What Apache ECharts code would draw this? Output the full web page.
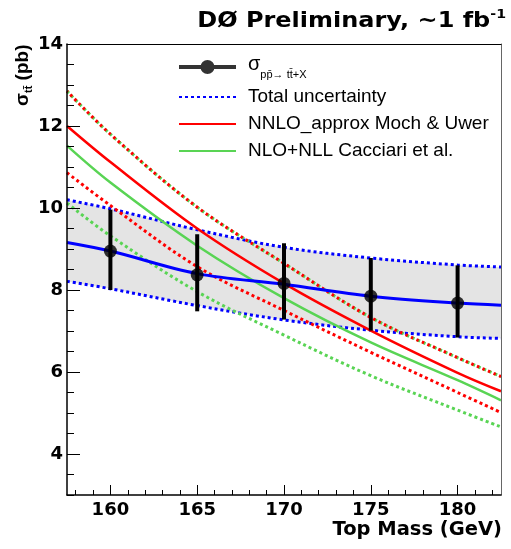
<!DOCTYPE html>
<html>
<head>
<meta charset="utf-8">
<script src="https://cdn.jsdelivr.net/npm/echarts@6/dist/echarts.min.js"></script>
<style>html,body{margin:0;padding:0;background:#fff;}#c{width:511px;height:549px;}</style>
</head>
<body>
<div id="c"></div>
<script>
// ---- data ----
const massGrid = [157.5, 160, 165, 170, 175, 180, 182.5];
const nnloCentral = [12.0, 11.12, 9.5, 8.16, 7.01, 5.98, 5.53];
const nnloUpper = [12.85, 11.8, 10.02, 8.65, 7.33, 6.35, 5.89];
const nnloLower = [10.86, 10.06, 8.57, 7.5, 6.48, 5.5, 5.01];
const nllCentral = [11.52, 10.62, 9.08, 7.8, 6.72, 5.8, 5.31];
const nllUpper = [12.85, 11.8, 10.02, 8.65, 7.33, 6.35, 5.89];
const nllLower = [10.12, 9.32, 7.96, 6.9, 5.91, 5.07, 4.66];
const fitCentral = [9.16, 8.95, 8.40, 8.14, 7.85, 7.68, 7.63];
const fitUpper = [10.2, 9.98, 9.47, 9.04, 8.78, 8.61, 8.56];
const fitLower = [8.21, 8.03, 7.62, 7.27, 7.02, 6.86, 6.82];
const measMass = [160, 165, 170, 175, 180];
const measXsec = [8.95, 8.37, 8.16, 7.85, 7.68];
const measLow = [8.0, 7.48, 7.28, 7.01, 6.84];
const measHigh = [9.96, 9.36, 9.14, 8.78, 8.6];
const xRange = [157.5, 182.5];
const yRange = [3, 14];
const xMajorRange = [160, 180];
const xMinorRange = [158, 182];
const yMajorRange = [4, 14];

// ---- layout ----
const W = 511, H = 549;
const G = {left: 67, right: 10, top: 44, bottom: 54};
const plotW = W - G.left - G.right;
const plotH = H - G.top - G.bottom;
const pxX = plotW / (xRange[1] - xRange[0]);
const pxY = plotH / (yRange[1] - yRange[0]);

const pairs = (ys) => massGrid.map((m, i) => [m, ys[i]]);
const BOLD = 'DejaVu Sans';
const REG = 'Liberation Sans';
const GREEN = 'rgb(89,212,84)';

const hidden = (gi) => ({gridIndex: gi, show: false, type: 'value', min: 0, max: 1});
const noSplit = {show: false};

function lineSeries(name, ys, color, width, dash, extra) {
  return Object.assign({
    name: name, type: 'line', xAxisIndex: 0, yAxisIndex: 0,
    data: pairs(ys), smooth: 0.35, symbol: 'none', showSymbol: false,
    color: color,
    lineStyle: {color: color, width: width, type: dash || 'solid'},
    silent: true, z: 3
  }, extra || {});
}

const option = {
  animation: false,
  backgroundColor: '#fff',
  grid: [
    {left: G.left, top: G.top, width: plotW, height: plotH, show: false},
    {left: G.left, top: G.top, width: plotW, height: (yMajorRange[1] - yMajorRange[0]) * pxY, show: false},
    {left: G.left + (xMinorRange[0] - xRange[0]) * pxX, top: G.top, width: (xMinorRange[1] - xMinorRange[0]) * pxX, height: plotH, show: false},
    {left: G.left + (xMajorRange[0] - xRange[0]) * pxX, top: G.top, width: (xMajorRange[1] - xMajorRange[0]) * pxX, height: plotH, show: false}
  ],
  xAxis: [
    {gridIndex: 0, type: 'value', position: 'bottom', min: xRange[0], max: xRange[1], z: 5,
     axisLine: {show: true, onZero: false, lineStyle: {color: '#000', width: 1.5}},
     axisTick: {show: false}, axisLabel: {show: false}, splitLine: noSplit},
    {gridIndex: 0, type: 'value', position: 'top', min: xRange[0], max: xRange[1], z: 5,
     axisLine: {show: true, onZero: false, lineStyle: {color: '#000', width: 1}},
     axisTick: {show: false}, axisLabel: {show: false}, splitLine: noSplit},
    hidden(1),
    {gridIndex: 2, type: 'value', position: 'bottom', min: xMinorRange[0], max: xMinorRange[1], interval: 1, z: 5,
     axisLine: {show: false, onZero: false},
     axisTick: {show: true, inside: true, length: 5, lineStyle: {color: '#000', width: 1}},
     axisLabel: {show: false}, splitLine: noSplit},
    {gridIndex: 3, type: 'value', position: 'bottom', min: xMajorRange[0], max: xMajorRange[1], interval: 5, z: 5,
     axisLine: {show: false, onZero: false},
     axisTick: {show: true, inside: true, length: 10, lineStyle: {color: '#000', width: 1}},
     axisLabel: {show: true, margin: 6, color: '#000', fontFamily: BOLD, fontWeight: 'bold', fontSize: 18},
     splitLine: noSplit}
  ],
  yAxis: [
    {gridIndex: 0, type: 'value', position: 'left', min: yRange[0], max: yRange[1], interval: 0.5, z: 5,
     axisLine: {show: true, onZero: false, lineStyle: {color: '#000', width: 1.5}},
     axisTick: {show: true, inside: true, length: 7, lineStyle: {color: '#000', width: 1}},
     axisLabel: {show: false}, splitLine: noSplit},
    {gridIndex: 0, type: 'value', position: 'right', min: yRange[0], max: yRange[1], z: 5,
     axisLine: {show: true, onZero: false, lineStyle: {color: '#666', width: 1}},
     axisTick: {show: false}, axisLabel: {show: false}, splitLine: noSplit},
    {gridIndex: 1, type: 'value', position: 'left', min: yMajorRange[0], max: yMajorRange[1], interval: 2, z: 5,
     axisLine: {show: false, onZero: false},
     axisTick: {show: true, inside: true, length: 13, lineStyle: {color: '#000', width: 1}},
     axisLabel: {show: true, margin: 4, color: '#000', fontFamily: BOLD, fontWeight: 'bold', fontSize: 18},
     splitLine: noSplit},
    hidden(2),
    hidden(3)
  ],
  legend: {
    orient: 'vertical', left: 178, top: 54, padding: 0,
    itemWidth: 57, itemHeight: 14, itemGap: 7, selectedMode: false,
    textStyle: {fontFamily: REG, fontSize: 19, color: '#000', lineHeight: 20, padding: [0, 0, 0, 7],
      rich: {
        g: {fontFamily: REG, fontSize: 20, color: '#000', lineHeight: 26, verticalAlign: 'top'},
        s: {fontFamily: REG, fontSize: 11, color: '#000', lineHeight: 26, verticalAlign: 'bottom'}
      }},
    formatter: function (name) {
      return name === 'meas' ? '{g|\u03c3}{s|p\u0070\u0304\u2192 t\u0074\u0304+X}' : name;
    },
    data: [
      {name: 'meas', icon: 'path://M0,5H24V9H0Z M33,5H57V9H33Z M21.5,7A7,7 0 1 1 35.5,7A7,7 0 1 1 21.5,7Z'},
      {name: 'Total uncertainty', itemStyle: {opacity: 0}},
      {name: 'NNLO_approx Moch & Uwer', itemStyle: {opacity: 0}},
      {name: 'NLO+NLL Cacciari et al.', itemStyle: {opacity: 0}}
    ]
  },
  graphic: [
    {type: 'text', x: 506, y: 21, scaleX: 1.09, silent: true,
     style: {text: '{m|D\u00d8 Preliminary, ~1 fb}{p|-1}', textAlign: 'right', align: 'right', textVerticalAlign: 'middle', verticalAlign: 'middle',
       rich: {m: {fontFamily: BOLD, fontWeight: 'bold', fontSize: 22, lineHeight: 26, fill: '#000'},
              p: {fontFamily: BOLD, fontWeight: 'bold', fontSize: 13, lineHeight: 14, verticalAlign: 'top', fill: '#000'}}}},
    {type: 'text', x: 502, y: 530, silent: true,
     style: {text: 'Top Mass (GeV)', textAlign: 'right', align: 'right', textVerticalAlign: 'middle', verticalAlign: 'middle',
       fontFamily: BOLD, fontWeight: 'bold', fontSize: 19.5, fill: '#000'}},
    {type: 'text', x: 23, y: 106, rotation: Math.PI / 2, silent: true,
     style: {text: '{a|\u03c3}{s|t\u0074\u0304}{a| (pb)}', textAlign: 'left', align: 'left', textVerticalAlign: 'middle', verticalAlign: 'middle',
       rich: {a: {fontFamily: REG, fontWeight: 'bold', fontSize: 19, lineHeight: 22, fill: '#000'},
              s: {fontFamily: REG, fontWeight: 'bold', fontSize: 11, lineHeight: 22, verticalAlign: 'bottom', fill: '#000'}}}}
  ],
  series: [
    lineSeries('bandFill', fitUpper, '#e4e4e4', 0, 'solid',
      {lineStyle: {width: 0, opacity: 0}, areaStyle: {color: '#e4e4e4', opacity: 1, origin: 'start'}, z: 1}),
    lineSeries('bandClear', fitLower, '#ffffff', 0, 'solid',
      {lineStyle: {width: 0, opacity: 0}, areaStyle: {color: '#ffffff', opacity: 1, origin: 'start'}, z: 1}),
    lineSeries('Total uncertainty', fitUpper, '#0000ff', 3, [3, 3]),
    lineSeries('fitLowerDot', fitLower, '#0000ff', 3, [3, 3]),
    lineSeries('nllUpperDot', nllUpper, GREEN, 3, [3, 3]),
    lineSeries('nllLowerDot', nllLower, GREEN, 3, [3, 3]),
    lineSeries('NLO+NLL Cacciari et al.', nllCentral, GREEN, 2.5),
    lineSeries('nnloUpperDot', nnloUpper, '#ff0000', 3, [3, 3], {lineStyle: {color: '#ff0000', width: 3, type: [2.5, 3.5], dashOffset: 1}}),
    lineSeries('nnloLowerDot', nnloLower, '#ff0000', 3, [3, 3]),
    lineSeries('NNLO_approx Moch & Uwer', nnloCentral, '#ff0000', 2.5),
    lineSeries('fitCentral', fitCentral, '#0000ff', 3),
    {
      name: 'errbars', type: 'custom', xAxisIndex: 0, yAxisIndex: 0, z: 4, silent: true,
      data: measMass.map((m, i) => [m, measLow[i], measHigh[i]]),
      encode: {x: 0, y: [1, 2]},
      renderItem: function (params, api) {
        const x = api.value(0);
        const p1 = api.coord([x, api.value(1)]);
        const p2 = api.coord([x, api.value(2)]);
        return {type: 'line', shape: {x1: p1[0], y1: p1[1], x2: p2[0], y2: p2[1]},
                style: {stroke: '#000', lineWidth: 4}};
      }
    },
    {
      name: 'meas', type: 'scatter', xAxisIndex: 0, yAxisIndex: 0, z: 5, silent: true,
      symbol: 'circle', symbolSize: 13, color: '#000', itemStyle: {color: '#000'},
      data: measMass.map((m, i) => [m, measXsec[i]])
    }
  ]
};

const chart = echarts.init(document.getElementById('c'), null, {renderer: 'canvas', width: W, height: H});
chart.setOption(option);
</script>
</body>
</html>
